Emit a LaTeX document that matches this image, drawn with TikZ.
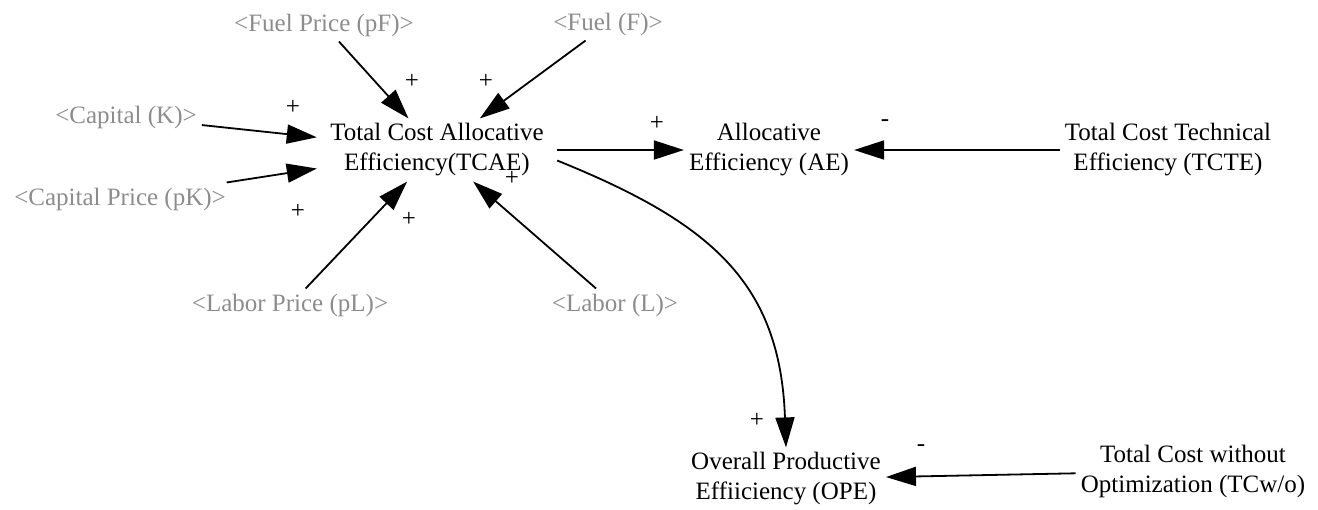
\documentclass[tikz,border=0pt]{standalone}
\usepackage{fontspec}
\setmainfont{Liberation Serif}
\usepackage{tikz}
\usetikzlibrary{arrows.meta,positioning}
\definecolor{ghostgray}{RGB}{140,140,140}

\begin{document}
\begin{tikzpicture}[
    x=1pt, y=1pt,
    varbox/.style={align=center, inner sep=5pt, font=\fontsize{25}{30}\selectfont},
    ghost/.style={varbox, text=ghostgray},
    arrow/.style={-{Triangle[length=30pt,width=19pt]}, line width=1.8pt},
    sign/.style={inner sep=0pt, font=\fontsize{25}{30}\selectfont}
  ]
    \useasboundingbox (0,0) rectangle (1318,-509);

    % main variables
    \node[varbox, minimum width=240pt] (tcae) at (437,-150) {Total Cost Allocative\\Efficiency(TCAE)};
    \node[varbox] (ae) at (769,-150) {Allocative\\Efficiency (AE)};
    \node[varbox] (tcte) at (1168,-150) {Total Cost Technical\\Efficiency (TCTE)};
    \node[varbox] (ope) at (786,-479) {Overall Productive\\Effiiciency (OPE)};
    \node[varbox] (tcwo) at (1193,-471) {Total Cost without\\Optimization (TCw/o)};

    % shadow variables
    \node[ghost] (fprice) at (324,-25) {<Fuel Price (pF)>};
    \node[ghost] (fuel) at (608,-24) {<Fuel (F)>};
    \node[ghost] (cap) at (126,-117) {<Capital (K)>};
    \node[ghost] (cprice) at (120,-199) {<Capital Price (pK)>};
    \node[ghost] (lprice) at (290,-305) {<Labor Price (pL)>};
    \node[ghost] (labor) at (615,-305) {<Labor (L)>};

    \draw[arrow] (fprice) -- (tcae);
    \draw[arrow] (fuel) -- (tcae);
    \draw[arrow] (cap) -- (tcae);
    \draw[arrow] (cprice) -- (tcae);
    \draw[arrow] (lprice) -- (tcae);
    \draw[arrow] (labor) -- (tcae);
    \draw[arrow] (tcae) -- (ae);
    \draw[arrow] (tcte) -- (ae);
    \draw[arrow] (tcae.-5) to[out=-22, in=92, looseness=1.15] (ope.north);
    \draw[arrow] (tcwo) -- (ope);

    % polarities
    \node[sign] (s1) at (412,-81) {+};
    \node[sign] (s2) at (486,-81) {+};
    \node[sign] (s3) at (293,-107) {+};
    \node[sign] (s4) at (298,-211) {+};
    \node[sign] (s5) at (409,-219) {+};
    \node[sign] (s6) at (512,-178) {+};
    \node[sign] (s7) at (657,-123) {+};
    \node[sign] (s8) at (885,-123) {-};
    \node[sign] (s9) at (757,-420) {+};
    \node[sign] (s10) at (921,-448) {-};
\end{tikzpicture}
\end{document}
